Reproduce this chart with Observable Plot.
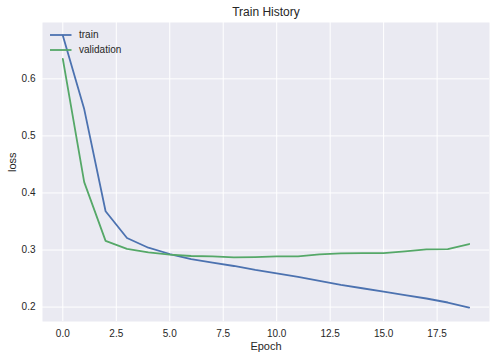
<!DOCTYPE html>
<html>
<head>
<meta charset="utf-8">
<script src="https://cdn.jsdelivr.net/npm/d3@7"></script>
<script src="https://cdn.jsdelivr.net/npm/@observablehq/plot@0.6"></script>
<style>
  html, body { margin: 0; padding: 0; background: #fff; }
  svg { display: block; }
</style>
</head>
<body>
<div id="chart"></div>
<script>
const epochs = [0,1,2,3,4,5,6,7,8,9,10,11,12,13,14,15,16,17,18,19];
const trainLoss = [0.676,0.547,0.368,0.321,0.304,0.293,0.284,0.278,0.272,0.265,0.259,0.253,0.246,0.239,0.233,0.227,0.221,0.215,0.208,0.199];
const valLoss = [0.635,0.419,0.316,0.302,0.296,0.292,0.2895,0.2888,0.287,0.2875,0.2888,0.289,0.2923,0.294,0.2947,0.2947,0.2977,0.301,0.3017,0.3105];
const xTicks = [0,2.5,5,7.5,10,12.5,15,17.5];
const yTicks = [0.2,0.3,0.4,0.5,0.6];
const seriesNames = ["train","validation"];
const seriesColors = ["#4C72B0","#55A868"];
const titleText = "Train History";
const xLabel = "Epoch";
const yLabel = "loss";

const rows = [];
epochs.forEach((e,i) => {
  rows.push({epoch: e, loss: trainLoss[i], series: seriesNames[0]});
  rows.push({epoch: e, loss: valLoss[i], series: seriesNames[1]});
});

const font = "'Liberation Sans', Arial, sans-serif";
const textColor = "#262626";

const chart = Plot.plot({
  width: 495,
  height: 359,
  marginTop: 22,
  marginLeft: 42,
  marginRight: 6,
  marginBottom: 38,
  style: {fontFamily: font, fontSize: "10px", color: textColor, background: "#fff"},
  x: {domain: [-0.95, 19.95]},
  y: {domain: [0.1747, 0.6988]},
  color: {domain: seriesNames, range: seriesColors},
  marks: [
    Plot.frame({fill: "#EAEAF2", stroke: null}),
    Plot.gridX(xTicks, {stroke: "#fff", strokeOpacity: 1, strokeWidth: 1}),
    Plot.gridY(yTicks, {stroke: "#fff", strokeOpacity: 1, strokeWidth: 1}),
    Plot.axisX(xTicks, {tickSize: 0, tickPadding: 8, tickFormat: d3.format(".1f"), label: null, fill: textColor, fontSize: 10}),
    Plot.axisY(yTicks, {tickSize: 0, tickPadding: 7, tickFormat: d3.format(".1f"), label: null, fill: textColor, fontSize: 10}),
    Plot.line(rows, {x: "epoch", y: "loss", z: "series", stroke: "series", strokeWidth: 1.8}),
    Plot.text([titleText], {frameAnchor: "top", dy: -10, fontSize: 12, fill: textColor, lineAnchor: "middle"}),
    Plot.text([xLabel], {frameAnchor: "bottom", dy: 25, fontSize: 11, fill: textColor, lineAnchor: "middle"}),
    Plot.text([yLabel], {frameAnchor: "left", dx: -30, rotate: -90, fontSize: 11, fill: textColor, lineAnchor: "middle"})
  ]
});

// legend (upper left inside plot)
const svg = d3.select(chart);
const lg = svg.append("g").attr("font-family", font).attr("font-size", 10).attr("fill", textColor).attr("text-anchor", "start");
seriesNames.forEach((name, i) => {
  const y = 35 + i * 15;
  lg.append("line").attr("x1", 50).attr("x2", 71.5).attr("y1", y).attr("y2", y)
    .attr("stroke", seriesColors[i]).attr("stroke-width", 1.8);
  lg.append("text").attr("x", 79).attr("y", y).attr("dy", "0.32em").attr("text-anchor", "start").text(name);
});

document.getElementById("chart").appendChild(chart);
</script>
</body>
</html>
